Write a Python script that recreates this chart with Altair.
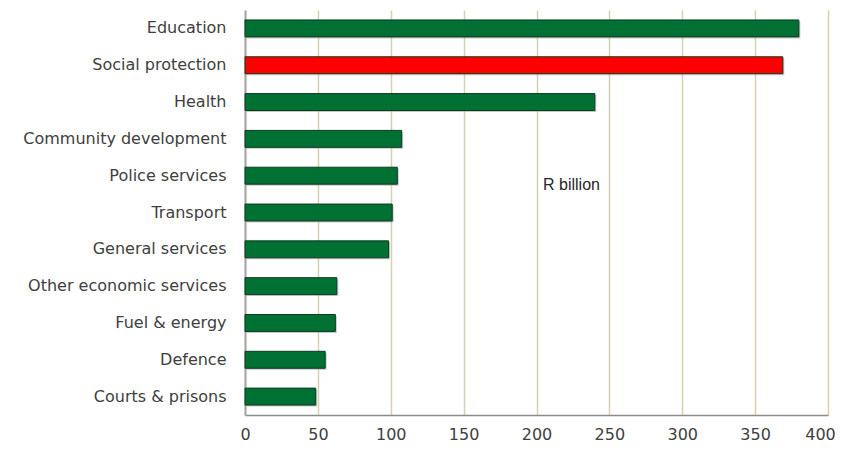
import altair as alt
import pandas as pd

categories = [
    "Education", "Social protection", "Health", "Community development",
    "Police services", "Transport", "General services",
    "Other economic services", "Fuel & energy", "Defence", "Courts & prisons",
]
values = [380, 369, 240, 107.5, 104.5, 101, 98.5, 63, 62, 55, 48.5]
highlighted = ["Social protection"]
x_ticks = [0, 50, 100, 150, 200, 250, 300, 350, 400]
note_text = ["R billion"]
note_x = [204.5]

GREEN = "#007033"
RED = "#ff0000"

df = pd.DataFrame({
    "category": categories,
    "value": values,
    "fill": [RED if c in highlighted else GREEN for c in categories],
})
note_df = pd.DataFrame({"label": note_text, "x": note_x})

x_enc = alt.X(
    "value:Q",
    scale=alt.Scale(domain=[0, 400], nice=False, zero=True),
    axis=alt.Axis(
        values=x_ticks, title=None, grid=True, gridColor="#d5d0b0", gridWidth=1.5,
        ticks=False, labelPadding=11, labelFont="DejaVu Sans", labelFontSize=16,
        labelColor="#404040", domainColor="#8c8c8c", domainWidth=1.5,
        labelFlush=False,
        labelOffset=alt.condition("datum.value == 400", alt.value(-8), alt.value(0)),
    ),
)
y_enc = alt.Y(
    "category:N", sort=categories,
    scale=alt.Scale(paddingInner=0.54, paddingOuter=0.27),
    axis=alt.Axis(
        title=None, ticks=False, labelPadding=19, labelFont="DejaVu Sans",
        labelFontSize=16, labelColor="#404040", domainColor="#a6a6a6",
        domainWidth=2, grid=False, labelLimit=400,
    ),
)

base = alt.Chart(df)
shadow = base.mark_bar(color="#9a9a9a", opacity=0.55, xOffset=1.5, yOffset=1.5).encode(
    x=x_enc, y=y_enc
)
bars = base.mark_bar(stroke="#0e3a20", strokeWidth=1).encode(
    x=x_enc, y=y_enc, color=alt.Color("fill:N", scale=None, legend=None)
)
note = alt.Chart(note_df).mark_text(
    align="left", baseline="middle", font="Liberation Sans", fontSize=16, color="#262626"
).encode(x=alt.X("x:Q"), y=alt.value(175), text="label:N")

chart = (
    alt.layer(shadow, bars, note)
    .properties(
        width=583, height=405,
        autosize=alt.AutoSizeParams(type="none"),
        padding={"left": 237, "top": 2, "right": 7, "bottom": 31},
    )
    .configure_view(stroke=None)
)

chart.save("out.html", embed_options={"renderer": "svg", "actions": False})
